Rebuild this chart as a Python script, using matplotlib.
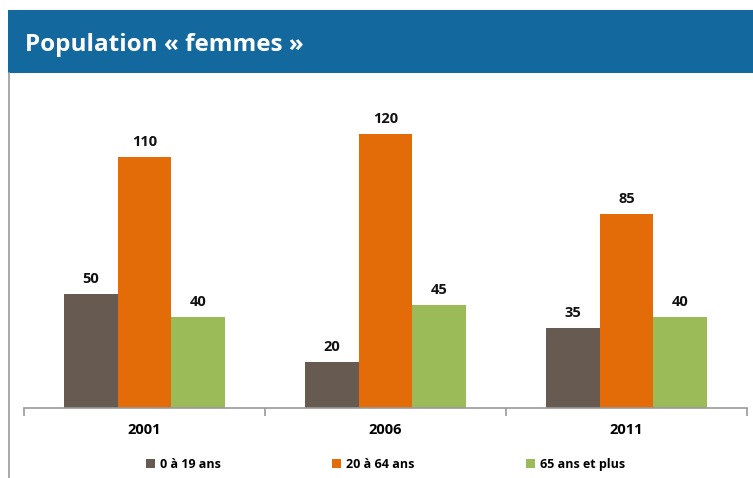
import matplotlib
matplotlib.use("Agg")
import matplotlib.pyplot as plt
from matplotlib.patches import Rectangle
import numpy as np

years = ["2001", "2006", "2011"]
series_names = ["0 à 19 ans", "20 à 64 ans", "65 ans et plus"]
v_0_19 = [50, 20, 35]
v_20_64 = [110, 120, 85]
v_65 = [40, 45, 40]
colors = ["#675a50", "#e36c09", "#9bbb59"]
title = "Population « femmes »"

W, H = 753, 478
fig = plt.figure(figsize=(W / 100, H / 100), dpi=100)
fig.patch.set_facecolor("white")

# header band
fig.patches.append(Rectangle((8 / W, 1 - 73 / H), 1 - 8 / W, 63 / H,
                             transform=fig.transFigure, facecolor="#13699e",
                             edgecolor="none", zorder=0))
# left border line
fig.add_artist(plt.Line2D([8.5 / W, 8.5 / W], [0, 1 - 73 / H],
                          transform=fig.transFigure, color="#9a9a9a", lw=1.2))
fig.text(25 / W, 1 - 45 / H, title, color="white", fontsize=17.5,
         fontweight="bold", family=["Open Sans", "DejaVu Sans"], va="center", ha="left")

ax = fig.add_axes([24 / W, (H - 408) / H, 723 / W, 308 / H])
ax.set_xlim(-0.5, 2.5)
ax.set_ylim(0, 135)
x = np.arange(len(years))
bw = 0.222
data = [v_0_19, v_20_64, v_65]
for i, (vals, c, name) in enumerate(zip(data, colors, series_names)):
    bars = ax.bar(x + (i - 1) * bw, vals, width=bw, color=c, label=name, zorder=2)
    for b, v in zip(bars, vals):
        ax.text(b.get_x() + b.get_width() / 2, v + 3.5, str(v), ha="center", va="bottom",
                fontsize=10.5, fontweight="bold", family=["Open Sans", "DejaVu Sans"],
                color="#111111")

for s in ["top", "right", "left"]:
    ax.spines[s].set_visible(False)
ax.spines["bottom"].set_color("#999999")
ax.spines["bottom"].set_linewidth(1.2)
ax.set_yticks([])
ax.set_xticks([-0.5, 0.5, 1.5, 2.5], minor=False)
ax.set_xticklabels([])
ax.tick_params(axis="x", which="major", length=6, color="#999999", width=1.2)
ax.set_xticks(x, minor=True)
ax.set_xticklabels(years, minor=True, fontsize=10.5, fontweight="bold",
                   family=["Open Sans", "DejaVu Sans"])
ax.tick_params(axis="x", which="minor", length=0, pad=11)

leg = ax.legend(loc="upper center", bbox_to_anchor=(0.5, -0.125), ncol=3,
                frameon=False, prop={"size": 9, "weight": "bold",
                                     "family": ["Open Sans", "DejaVu Sans"]},
                handlelength=0.7, handleheight=0.7, handletextpad=0.4,
                columnspacing=8.95)

fig.savefig("out.png", dpi=100)
